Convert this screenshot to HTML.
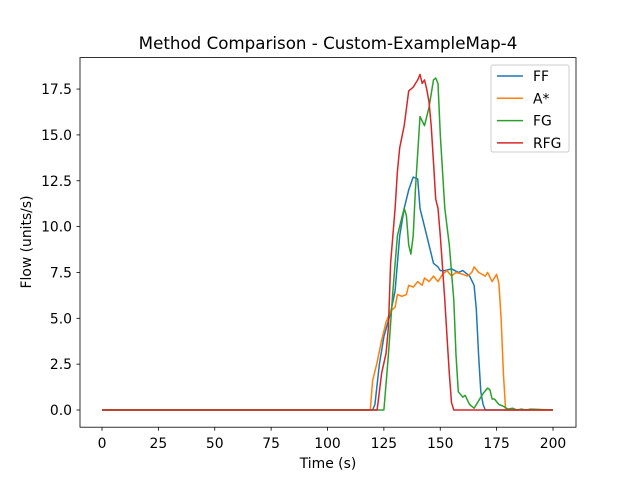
<!DOCTYPE html>
<html><head><meta charset="utf-8"><style>body{margin:0;background:#fff}svg{display:block;font-family:"DejaVu Sans","Liberation Sans",sans-serif}</style></head>
<body>
<svg id="chart" width="640" height="480" xmlns="http://www.w3.org/2000/svg">
<rect width="640" height="480" fill="#fff"/>
<text x="328" y="49" font-size="16.7" text-anchor="middle">Method Comparison - Custom-ExampleMap-4</text>
<g id="plot"></g>
<rect x="80" y="57.6" width="496" height="369.6" fill="none" stroke="#000" stroke-width="0.8"/>
<text x="328" y="468" font-size="13.9" text-anchor="middle">Time (s)</text>
<text x="31" y="242" font-size="13.9" text-anchor="middle" transform="rotate(-90 31 242)">Flow (units/s)</text>
<g>
<rect x="491" y="65" width="78" height="87" fill="#fff" fill-opacity="0.8" stroke="#ccc" rx="2"/>
<g id="legend-items"></g>
</g>
</svg>
<script>
const ffT=[0,120,121,123,125,128,130,132,134,136,138,140,141,143,145,147,149,150,152,155,158,160,163,165,166,167,168,169,170,200];
const ffV=[0,0,0.3,2.5,4,5.3,6.5,9.5,11,12,12.7,12.6,11,10,9,8,7.8,7.6,7.6,7.7,7.5,7.6,7.3,6.8,5.5,3,1,0.3,0,0];
const asT=[0,119,120,122,124,126,128,130,131,133,135,136,138,140,142,143,145,147,149,151,153,155,157,160,162,164,165,167,170,171,173,175,176,177,178,179,200];
const asV=[0,0,1.6,2.6,3.8,4.8,5.4,5.6,6.3,6.2,6.3,6.8,6.7,7.0,6.8,7.2,7.0,7.3,7.0,7.4,7.6,7.3,7.5,7.4,7.3,7.5,7.8,7.5,7.3,7.5,7.0,7.4,6.9,5,2,0,0];
const fgT=[0,125,127,129,131,133,134,135,136,137,138,139,141,143,145,147,148,149,150,152,154,156,157,158,160,161,163,165,167,169,171,172,173,174,176,178,180,182,184,186,188,190,200];
const fgV=[0,0,3,6.5,9.5,10.5,11,10.6,9,8.5,9.5,12,16,15.5,16.5,18,18.1,17.8,15,11,9,6,3,1,0.7,0.8,0.3,0.1,0.5,0.9,1.2,1.1,0.6,0.6,0.3,0.2,0.05,0.1,0,0.05,0,0.05,0];
const rfT=[0,122,123,124,126,127,128,130,131,132,134,136,138,140,141,142,143,144,145,146,147,148,149,150,152,153,154,155,156,200];
const rfV=[0,0,1,2,3.1,4.5,8,11,13,14.3,15.5,17.4,17.6,18,18.3,17.8,18,17.5,16.8,15.5,13.5,11.5,11,9.5,6,4,2,0.4,0,0];
const names=["FF","A*","FG","RFG"];
const colors=["#1f77b4","#ff7f0e","#2ca02c","#d62728"];
const xTicks=[0,25,50,75,100,125,150,175,200];
const yTicks=[0,2.5,5,7.5,10,12.5,15,17.5];
const yTickLabels=["0.0","2.5","5.0","7.5","10.0","12.5","15.0","17.5"];
const X=t=>102+t*2.255, Y=v=>410-v*18.34;
const NS="http://www.w3.org/2000/svg";
const plot=document.getElementById('plot');
function mk(tag,attrs,parent){const e=document.createElementNS(NS,tag);for(const k in attrs)e.setAttribute(k,attrs[k]);parent.appendChild(e);return e;}
xTicks.forEach(t=>{
 const l=mk('line',{x1:X(t),x2:X(t),y1:427.2,y2:430.7,stroke:'#000','stroke-width':0.8},plot);
 
 
 const tx=mk('text',{x:X(t),y:448,'font-size':13.9,'text-anchor':'middle'},plot);tx.textContent=t;
 
 
});
yTicks.forEach((v,i)=>{
 const l=mk('line',{x1:76.5,x2:80,y1:Y(v),y2:Y(v),stroke:'#000','stroke-width':0.8},plot);
 
 
 const tx=mk('text',{x:72,y:Y(v)+5,'font-size':13.9,'text-anchor':'end'},plot);tx.textContent=yTickLabels[i];
 
 
});
const series=[[ffT,ffV],[asT,asV],[fgT,fgV],[rfT,rfV]];
series.forEach((s,i)=>{
 const d=s[0].map((t,j)=>(j?'L':'M')+X(t).toFixed(1)+','+Y(s[1][j]).toFixed(1)).join('');
 const p=mk('path',{d:d,fill:'none',stroke:colors[i],'stroke-width':1.5,'stroke-linejoin':'round'},plot);
 
 
});
const lg=document.getElementById('legend-items');
names.forEach((n,i)=>{
 const y=76+i*22.3;
 const l=mk('line',{x1:497,x2:523,y1:y,y2:y,stroke:colors[i],'stroke-width':1.5},lg);
 
 
 const tx=mk('text',{x:533,y:y+5,'font-size':13.9},lg);tx.textContent=n;
 
 
});
</script>
</body></html>
